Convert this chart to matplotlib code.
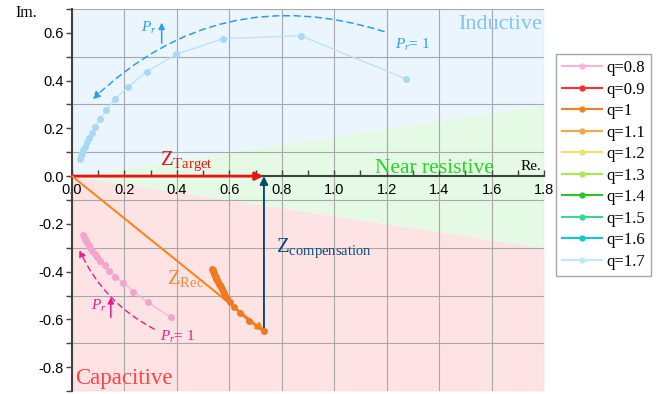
import numpy as np
import matplotlib
matplotlib.use('Agg')
import matplotlib.pyplot as plt
from matplotlib.patches import FancyArrowPatch
from matplotlib.lines import Line2D
from matplotlib.ticker import MultipleLocator, FormatStrFormatter

plt.rcParams['font.family'] = 'Liberation Serif'
plt.rcParams['mathtext.fontset'] = 'custom'
plt.rcParams['mathtext.rm'] = 'Liberation Serif'
plt.rcParams['mathtext.it'] = 'Liberation Serif:italic'
plt.rcParams['axes.unicode_minus'] = False

# legend entries
q_labels = ['q=0.8', 'q=0.9', 'q=1', 'q=1.1', 'q=1.2', 'q=1.3', 'q=1.4', 'q=1.5', 'q=1.6', 'q=1.7']
q_colors = ['#f9b4d6', '#ff3030', '#f57f20', '#f0a848', '#ece070',
            '#a8e850', '#28c828', '#38d890', '#10c8d0', '#c4e6fa']

# impedance trajectories (Re, Im), starting from Pr = 1
re_q17 = [1.274, 0.872, 0.577, 0.397, 0.285, 0.212, 0.164, 0.130, 0.107, 0.089,
          0.075, 0.065, 0.056, 0.050, 0.043, 0.038, 0.034, 0.031]
im_q17 = [0.407, 0.588, 0.576, 0.510, 0.437, 0.372, 0.322, 0.275, 0.240, 0.207,
          0.182, 0.161, 0.141, 0.123, 0.109, 0.095, 0.084, 0.070]

re_q08 = [0.376, 0.289, 0.234, 0.196, 0.165, 0.142, 0.124, 0.108, 0.096, 0.086,
          0.077, 0.070, 0.064, 0.058, 0.053, 0.049, 0.045, 0.041]
im_q08 = [-0.591, -0.528, -0.484, -0.448, -0.423, -0.396, -0.373, -0.355, -0.339, -0.325,
          -0.312, -0.300, -0.289, -0.279, -0.270, -0.262, -0.254, -0.247]

re_q10 = [0.732, 0.676, 0.641, 0.619, 0.603, 0.592, 0.585, 0.580, 0.575, 0.571,
          0.567, 0.563, 0.560, 0.557, 0.554, 0.551, 0.548, 0.546, 0.543, 0.541,
          0.539, 0.537, 0.535]
im_q10 = [-0.650, -0.607, -0.573, -0.548, -0.527, -0.512, -0.502, -0.491, -0.482, -0.474,
          -0.466, -0.458, -0.451, -0.444, -0.437, -0.430, -0.423, -0.417, -0.410, -0.404,
          -0.398, -0.392, -0.387]

# phasors
z_target = (0.73, 0.0)
z_rec = (0.732, -0.649)

x_max = 1.8
y_min, y_max = -0.9, 0.7
wedge_slope = 0.3 / 1.8

fig = plt.figure(figsize=(6.58, 3.94), dpi=100)
ax = fig.add_axes([72 / 658, 3 / 394, 472 / 658, 382 / 394])

xs = np.array([0, x_max])
ax.fill_between(xs, wedge_slope * xs, y_max, color='#eaf5fd', lw=0)
ax.fill_between(xs, -wedge_slope * xs, wedge_slope * xs, color='#e4fae4', lw=0)
ax.fill_between(xs, y_min, -wedge_slope * xs, color='#fde3e4', lw=0)

ax.set_xlim(0, x_max)
ax.set_ylim(y_min, y_max)

ax.xaxis.set_major_locator(MultipleLocator(0.2))
ax.xaxis.set_minor_locator(MultipleLocator(0.1))
ax.yaxis.set_major_locator(MultipleLocator(0.2))
ax.yaxis.set_minor_locator(MultipleLocator(0.1))
ax.xaxis.set_major_formatter(FormatStrFormatter('%.1f'))
ax.yaxis.set_major_formatter(FormatStrFormatter('%.1f'))
ax.grid(True, which='major', axis='x', color='#a8a8a8', lw=0.8)
ax.grid(True, which='minor', axis='y', color='#a8a8a8', lw=0.8)

for s in ['top', 'right']:
    ax.spines[s].set_visible(False)
ax.spines['bottom'].set_position(('data', 0))
for s in ['bottom', 'left']:
    ax.spines[s].set_color('#404040')
    ax.spines[s].set_linewidth(1.5)
    ax.spines[s].set_zorder(3)
ax.tick_params(axis='x', which='both', direction='in', length=4, width=1, color='#404040',
               labelsize=10.5, pad=5)
ax.tick_params(axis='y', which='both', direction='out', length=4, width=1, color='#404040',
               labelsize=10.5, pad=2)
for lab in ax.get_xticklabels() + ax.get_yticklabels():
    lab.set_fontfamily('Liberation Sans')

# trajectories
ax.plot(re_q17, im_q17, '-o', color='#bde2f8', mfc='#a9d8f5', mec='#a9d8f5', ms=4, lw=1, zorder=4)
ax.plot(re_q08, im_q08, '-o', color='#f9b4d6', mfc='#f5a3cc', mec='#f5a3cc', ms=4, lw=1, zorder=4)

# phasor arrows
ax.annotate('', xy=z_target, xytext=(0, 0),
            arrowprops=dict(arrowstyle='-|>', color='#ee1111', lw=2, mutation_scale=12,
                            shrinkA=0, shrinkB=0), zorder=5)
ax.annotate('', xy=z_rec, xytext=(0, 0),
            arrowprops=dict(arrowstyle='-|>', color='#ff8010', lw=1.4, mutation_scale=12,
                            shrinkA=0, shrinkB=0), zorder=5)
ax.annotate('', xy=(z_rec[0], z_target[1]), xytext=z_rec,
            arrowprops=dict(arrowstyle='-|>', color='#0b4a78', lw=1.4, mutation_scale=12,
                            shrinkA=0, shrinkB=0), zorder=5)
ax.plot(re_q10, im_q10, '-o', color='#f07a20', ms=4, lw=1.5, zorder=6)

# Pr sweep direction
arc_blue = FancyArrowPatch((1.20, 0.602), (0.071, 0.314), connectionstyle='arc3,rad=0.3',
                           arrowstyle='-|>', mutation_scale=11, color='#2a9df0', lw=1.1,
                           linestyle=(0, (4, 3)), zorder=5)
ax.add_patch(arc_blue)
arc_pink = FancyArrowPatch((0.323, -0.646), (0.024, -0.299), connectionstyle='arc3,rad=-0.18',
                           arrowstyle='-|>', mutation_scale=10, color='#ee1990', lw=1.0,
                           linestyle=(0, (4, 3)), zorder=5)
ax.add_patch(arc_pink)
ax.annotate('', xy=(0.342, 0.643), xytext=(0.342, 0.557),
            arrowprops=dict(arrowstyle='-|>', color='#2a9df0', lw=1.1, mutation_scale=9,
                            shrinkA=0, shrinkB=0))
ax.annotate('', xy=(0.148, -0.507), xytext=(0.148, -0.592),
            arrowprops=dict(arrowstyle='-|>', color='#ee1990', lw=1.1, mutation_scale=9,
                            shrinkA=0, shrinkB=0))

ax.text(0.265, 0.605, '$P_r$', color='#2a9df0', fontsize=11)
ax.text(1.232, 0.531, '$P_r$= 1', color='#2a9df0', fontsize=11)
ax.text(0.071, -0.559, '$P_r$', color='#ee1990', fontsize=11)
ax.text(0.336, -0.690, '$P_r$= 1', color='#ee1990', fontsize=11)

# labels
ax.text(0.336, 0.046, r'$\mathrm{Z}_{\mathrm{Target}}$', color='#ee1111', fontsize=15)
ax.text(0.361, -0.45, r'$\mathrm{Z}_{\mathrm{Rec}}$', color='#f08a3c', fontsize=15)
ax.text(0.778, -0.317, r'$\mathrm{Z}_{\mathrm{compensation}}$', color='#0b4a78', fontsize=15)
ax.text(1.473, 0.615, 'Inductive', color='#7cc6f2', fontsize=16)
ax.text(1.156, 0.014, 'Near resistive', color='#22d822', fontsize=15.5)
ax.text(0.011, -0.869, 'Capacitive', color='#ff4444', fontsize=16.5)
ax.text(1.71, 0.025, 'Re.', color='black', fontsize=11)
ax.text(-0.217, 0.668, 'Im.', color='black', fontsize=11.5, clip_on=False)

handles = [Line2D([], [], color=c, lw=1.5, marker='o', ms=3.5) for c in q_colors]
fig.legend(handles, q_labels, loc='upper left', bbox_to_anchor=(0.845, 0.862),
           fontsize=12, frameon=True, fancybox=False, edgecolor='#909090',
           handlelength=2.4, handletextpad=0.3, labelspacing=0.33, borderpad=0.35,
           borderaxespad=0)

fig.savefig('out.png', dpi=100)
